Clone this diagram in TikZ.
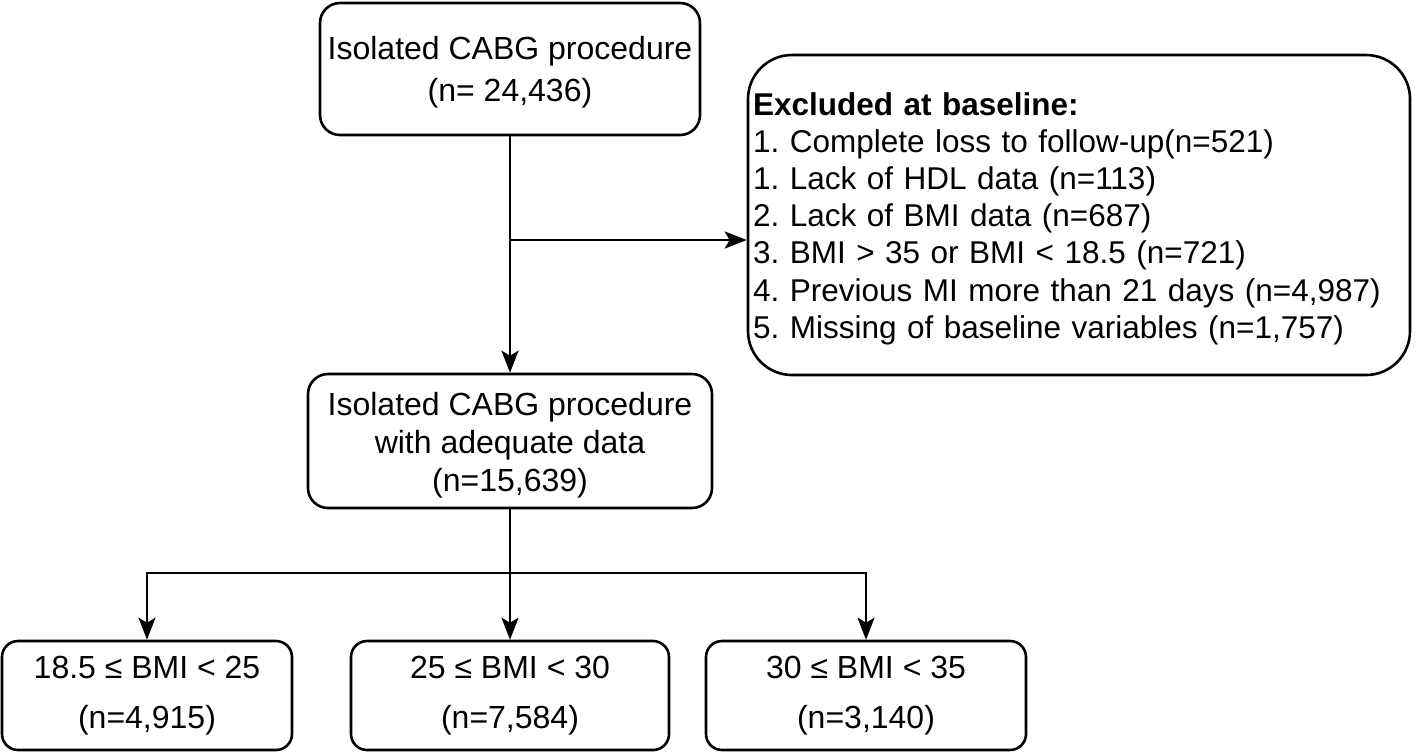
\documentclass[tikz,border=0pt]{standalone}
\usepackage{fontspec}
\setmainfont{Liberation Sans}
\usetikzlibrary{arrows.meta}

\begin{document}
\frenchspacing
\begin{tikzpicture}[x=0.5pt, y=-0.5pt,
  flowbox/.style={draw, line width=1.3pt, rounded corners=10pt, align=center, inner sep=0pt, font=\fontsize{16}{21}\selectfont},
  flowarrow/.style={-{Stealth[length=11pt, width=8.5pt, inset=2.5pt]}, line width=1.3pt},
  flowline/.style={line width=1.3pt}]
\useasboundingbox (0,0) rectangle (1416,752);

% Boxes
\node[flowbox, minimum width=190pt, minimum height=66pt] (cabg) at (510, 69) {\rule{0pt}{15pt}Isolated CABG procedure\\(n= 24,436)};

\node[flowbox, rounded corners=22pt, minimum width=331pt, minimum height=160pt, text width=326pt, align=left, font=\fontsize{15.75}{18.6}\selectfont] (excluded) at (1079, 215) {\textbf{\rule{0pt}{15pt}Excluded at baseline:}\\
1. Complete loss to follow-up(n=521)\\
1. Lack of HDL data (n=113)\\
2. Lack of BMI data (n=687)\\
3. BMI > 35 or BMI < 18.5 (n=721)\\
4. Previous MI more than 21 days (n=4,987)\\
5. Missing of baseline variables (n=1,757)};

\node[flowbox, minimum width=202pt, minimum height=67pt, font=\fontsize{16}{19}\selectfont] (adequate) at (510, 441) {\rule{0pt}{16pt}Isolated CABG procedure\\with adequate data\\(n=15,639)};

% BMI groups
\node[flowbox, rounded corners=8pt, minimum width=145pt, minimum height=54.5pt, font=\fontsize{16}{25}\selectfont] (normal) at (147, 695.5) {18.5 ≤ BMI < 25\\(n=4,915)};
\node[flowbox, rounded corners=8pt, minimum width=159pt, minimum height=54.5pt, font=\fontsize{16}{25}\selectfont] (over) at (510, 695.5) {25 ≤ BMI < 30\\(n=7,584)};
\node[flowbox, rounded corners=8pt, minimum width=160pt, minimum height=54.5pt, font=\fontsize{16}{25}\selectfont] (obese) at (866, 695.5) {30 ≤ BMI < 35\\(n=3,140)};

\coordinate (split) at (510, 240);
\coordinate (fork) at (510, 573);

% Arrows
\draw[flowarrow] (cabg) -- (adequate);
\draw[flowarrow] (split) -- (split -| excluded.west);
\draw[flowline] (adequate) -- (fork);
\draw[flowarrow] (fork) -| (normal);
\draw[flowarrow] (fork) -- (over);
\draw[flowarrow] (fork) -| (obese);
\end{tikzpicture}
\end{document}
